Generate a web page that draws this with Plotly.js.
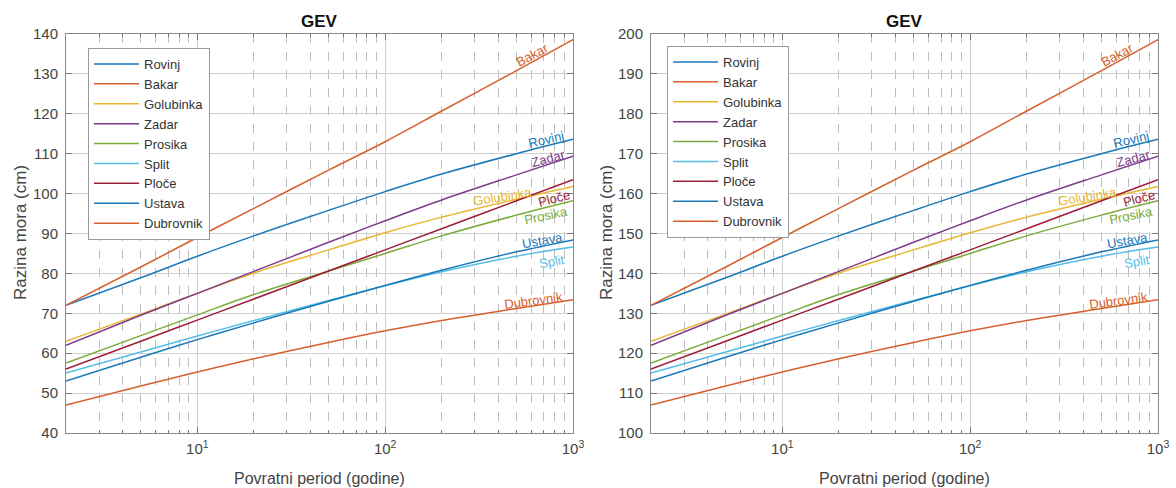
<!DOCTYPE html>
<html>
<head>
<meta charset="utf-8">
<script src="https://cdn.plot.ly/plotly-3.0.1.min.js"></script>
<style>html,body{margin:0;padding:0;background:#fff;}#chart{width:1176px;height:488px;}</style>
</head>
<body>
<div id="chart"></div>
<script>
// Return periods (years)
const T = [2, 5, 10, 20, 50, 100, 200, 500, 1000];
const names = ['Rovinj', 'Bakar', 'Golubinka', 'Zadar', 'Prosika', 'Split', 'Ploče', 'Ustava', 'Dubrovnik'];

// Left panel (cm)
const rovinjL    = [72, 78.9, 84.3, 89.4, 95.8, 100.5, 104.9, 110.0, 113.6];
const bakarL     = [72, 81.6, 89.0, 96.3, 105.9, 113.0, 120.7, 130.8, 138.6];
const golubinkaL = [63, 69.8, 75.0, 80.1, 85.9, 90.2, 94.1, 98.6, 101.8];
const zadarL     = [62, 69.5, 75.0, 80.5, 87.8, 93.2, 98.4, 104.7, 109.4];
const prosikaL   = [57.5, 64.4, 69.6, 74.7, 80.6, 85.0, 89.4, 94.6, 98.2];
const splitL     = [55, 60.3, 64.3, 68.2, 73.2, 76.9, 80.4, 84.3, 86.6];
const ploceL     = [56, 63.0, 68.3, 73.6, 80.6, 85.9, 91.2, 98.2, 103.5];
const ustavaL    = [53, 59.0, 63.4, 67.6, 73.0, 77.0, 80.8, 85.4, 88.4];
const dubrovnikL = [47, 51.8, 55.3, 58.6, 62.7, 65.6, 68.2, 71.2, 73.4];

// Right panel (cm)
const rovinjR    = [132, 138.9, 144.3, 149.4, 155.8, 160.5, 164.9, 170.0, 173.6];
const bakarR     = [132, 141.6, 149.0, 156.3, 165.9, 173.0, 180.7, 190.8, 198.6];
const golubinkaR = [123, 129.8, 135.0, 140.1, 145.9, 150.2, 154.1, 158.6, 161.8];
const zadarR     = [122, 129.5, 135.0, 140.5, 147.8, 153.2, 158.4, 164.7, 169.4];
const prosikaR   = [117.5, 124.4, 129.6, 134.7, 140.6, 145.0, 149.4, 154.6, 158.2];
const splitR     = [115, 120.3, 124.3, 128.2, 133.2, 136.9, 140.4, 144.3, 146.6];
const ploceR     = [116, 123.0, 128.3, 133.6, 140.6, 145.9, 151.2, 158.2, 163.5];
const ustavaR    = [113, 119.0, 123.4, 127.6, 133.0, 137.0, 140.8, 145.4, 148.4];
const dubrovnikR = [107, 111.8, 115.3, 118.6, 122.7, 125.6, 128.2, 131.2, 133.4];

const xTickVals = [10, 100, 1000];
const xTickText = ['10<sup>1</sup>', '10<sup>2</sup>', '10<sup>3</sup>'];
const xMinorVals = [3, 4, 5, 6, 7, 8, 9, 20, 30, 40, 50, 60, 70, 80, 90, 200, 300, 400, 500, 600, 700, 800, 900];

const leftSeries = [rovinjL, bakarL, golubinkaL, zadarL, prosikaL, splitL, ploceL, ustavaL, dubrovnikL];
const rightSeries = [rovinjR, bakarR, golubinkaR, zadarR, prosikaR, splitR, ploceR, ustavaR, dubrovnikR];

const colors = ['#1a78b8', '#d6602c', '#e8b630', '#7e3a8c', '#7bac3a', '#55bde8', '#9c1d36', '#1a78b8', '#d6602c'];

// label placement: log10(T) at label centre, pixel shift, angle
const labelCfg = {
  'Bakar':     {lx: 2.787, ys: 7,   a: -28},
  'Rovinj':    {lx: 2.856, ys: 7,   a: -13},
  'Zadar':     {lx: 2.867, ys: 6,   a: -15},
  'Golubinka': {lx: 2.627, ys: 6,   a: -9},
  'Ploče':     {lx: 2.899, ys: -12, a: -15},
  'Prosika':   {lx: 2.856, ys: -8,  a: -12},
  'Ustava':    {lx: 2.835, ys: 6,   a: -10},
  'Split':     {lx: 2.888, ys: -11, a: -10},
  'Dubrovnik': {lx: 2.792, ys: 5,   a: -8}
};

function interpLog(xs, ys, lx) {
  const lxs = xs.map(v => Math.log10(v));
  for (let i = 0; i < lxs.length - 1; i++) {
    if (lx >= lxs[i] && lx <= lxs[i + 1]) {
      const f = (lx - lxs[i]) / (lxs[i + 1] - lxs[i]);
      return ys[i] + f * (ys[i + 1] - ys[i]);
    }
  }
  return ys[ys.length - 1];
}

const FONT = 'Liberation Sans, Arial, Helvetica, sans-serif';
const traces = [];
const annotations = [];

function addPanel(series, xa, ya, legendName) {
  series.forEach((vals, i) => {
    traces.push({
      type: 'scatter', mode: 'lines', x: T, y: vals, name: names[i],
      xaxis: xa, yaxis: ya, legend: legendName,
      line: {color: colors[i], width: 1.5, shape: 'spline', smoothing: 1},
      hoverinfo: 'skip'
    });
    const c = labelCfg[names[i]];
    annotations.push({
      xref: xa, yref: ya, x: c.lx, y: interpLog(T, vals, c.lx),
      text: names[i], showarrow: false, textangle: c.a, yshift: c.ys,
      font: {family: FONT, size: 13, color: colors[i]}
    });
  });
}
addPanel(leftSeries, 'x', 'y', 'legend');
addPanel(rightSeries, 'x2', 'y2', 'legend2');

const W = 1176, H = 488;
const yDom = [1 - 433 / H, 1 - 34 / H];

function xAxis(dom, anchor) {
  return {
    type: 'log', range: [Math.log10(2), 3], domain: dom, anchor: anchor,
    tickvals: xTickVals, ticktext: xTickText,
    ticks: 'inside', ticklen: 6, tickcolor: '#777', tickwidth: 1,
    showgrid: true, gridcolor: '#d0d0d0', gridwidth: 1,
    minor: {tickvals: xMinorVals, ticks: 'inside', ticklen: 3, tickcolor: '#777',
            showgrid: true, griddash: 'dash', gridcolor: '#bdbdbd', gridwidth: 1},
    showline: true, linecolor: '#888', linewidth: 1, mirror: 'allticks',
    zeroline: false, tickfont: {family: FONT, size: 15, color: '#444'},
    ticklabelstandoff: 2
  };
}
function yAxis(range, anchor) {
  return {
    range: range, domain: yDom, anchor: anchor, dtick: 10,
    ticks: 'inside', ticklen: 6, tickcolor: '#777', tickwidth: 1,
    showgrid: true, gridcolor: '#d0d0d0', gridwidth: 1,
    showline: true, linecolor: '#888', linewidth: 1, mirror: 'allticks',
    zeroline: false, tickfont: {family: FONT, size: 15, color: '#444'},
    ticklabelstandoff: 4
  };
}

const xDomL = [66 / W, 573 / W];
const xDomR = [651 / W, 1158 / W];

function paperText(text, x, y, size, angle, bold) {
  return {
    xref: 'paper', yref: 'paper', x: x, y: y, xanchor: 'center', yanchor: 'middle',
    text: bold ? '<b>' + text + '</b>' : text, showarrow: false, textangle: angle || 0,
    font: {family: FONT, size: size, color: bold ? '#111' : '#444'}
  };
}
annotations.push(paperText('GEV', (xDomL[0] + xDomL[1]) / 2, 1 - 21 / H, 17, 0, true));
annotations.push(paperText('GEV', (xDomR[0] + xDomR[1]) / 2, 1 - 21 / H, 17, 0, true));
annotations.push(paperText('Povratni period (godine)', (xDomL[0] + xDomL[1]) / 2, 1 - 478 / H, 16));
annotations.push(paperText('Povratni period (godine)', (xDomR[0] + xDomR[1]) / 2, 1 - 478 / H, 16));
annotations.push(paperText('Razina mora (cm)', 20 / W, 1 - 233 / H, 17, -90));
annotations.push(paperText('Razina mora (cm)', 606 / W, 1 - 233 / H, 17, -90));

const legendBase = {
  xanchor: 'left', yanchor: 'top', bgcolor: '#fff', bordercolor: '#999', borderwidth: 1,
  font: {family: FONT, size: 13, color: '#333'}, tracegroupgap: 0, traceorder: 'normal',
  itemwidth: 45
};

const layout = {
  width: W, height: H, margin: {l: 0, r: 0, t: 0, b: 0},
  paper_bgcolor: '#fff', plot_bgcolor: '#fff', showlegend: true,
  xaxis: xAxis(xDomL, 'y'), yaxis: yAxis([40, 140], 'x'),
  xaxis2: xAxis(xDomR, 'y2'), yaxis2: yAxis([100, 200], 'x2'),
  legend: Object.assign({x: 88 / W, y: 1 - 48 / H}, legendBase),
  legend2: Object.assign({x: 667 / W, y: 1 - 46 / H}, legendBase),
  annotations: annotations
};

Plotly.newPlot('chart', traces, layout, {displayModeBar: false, staticPlot: true});
</script>
</body>
</html>
